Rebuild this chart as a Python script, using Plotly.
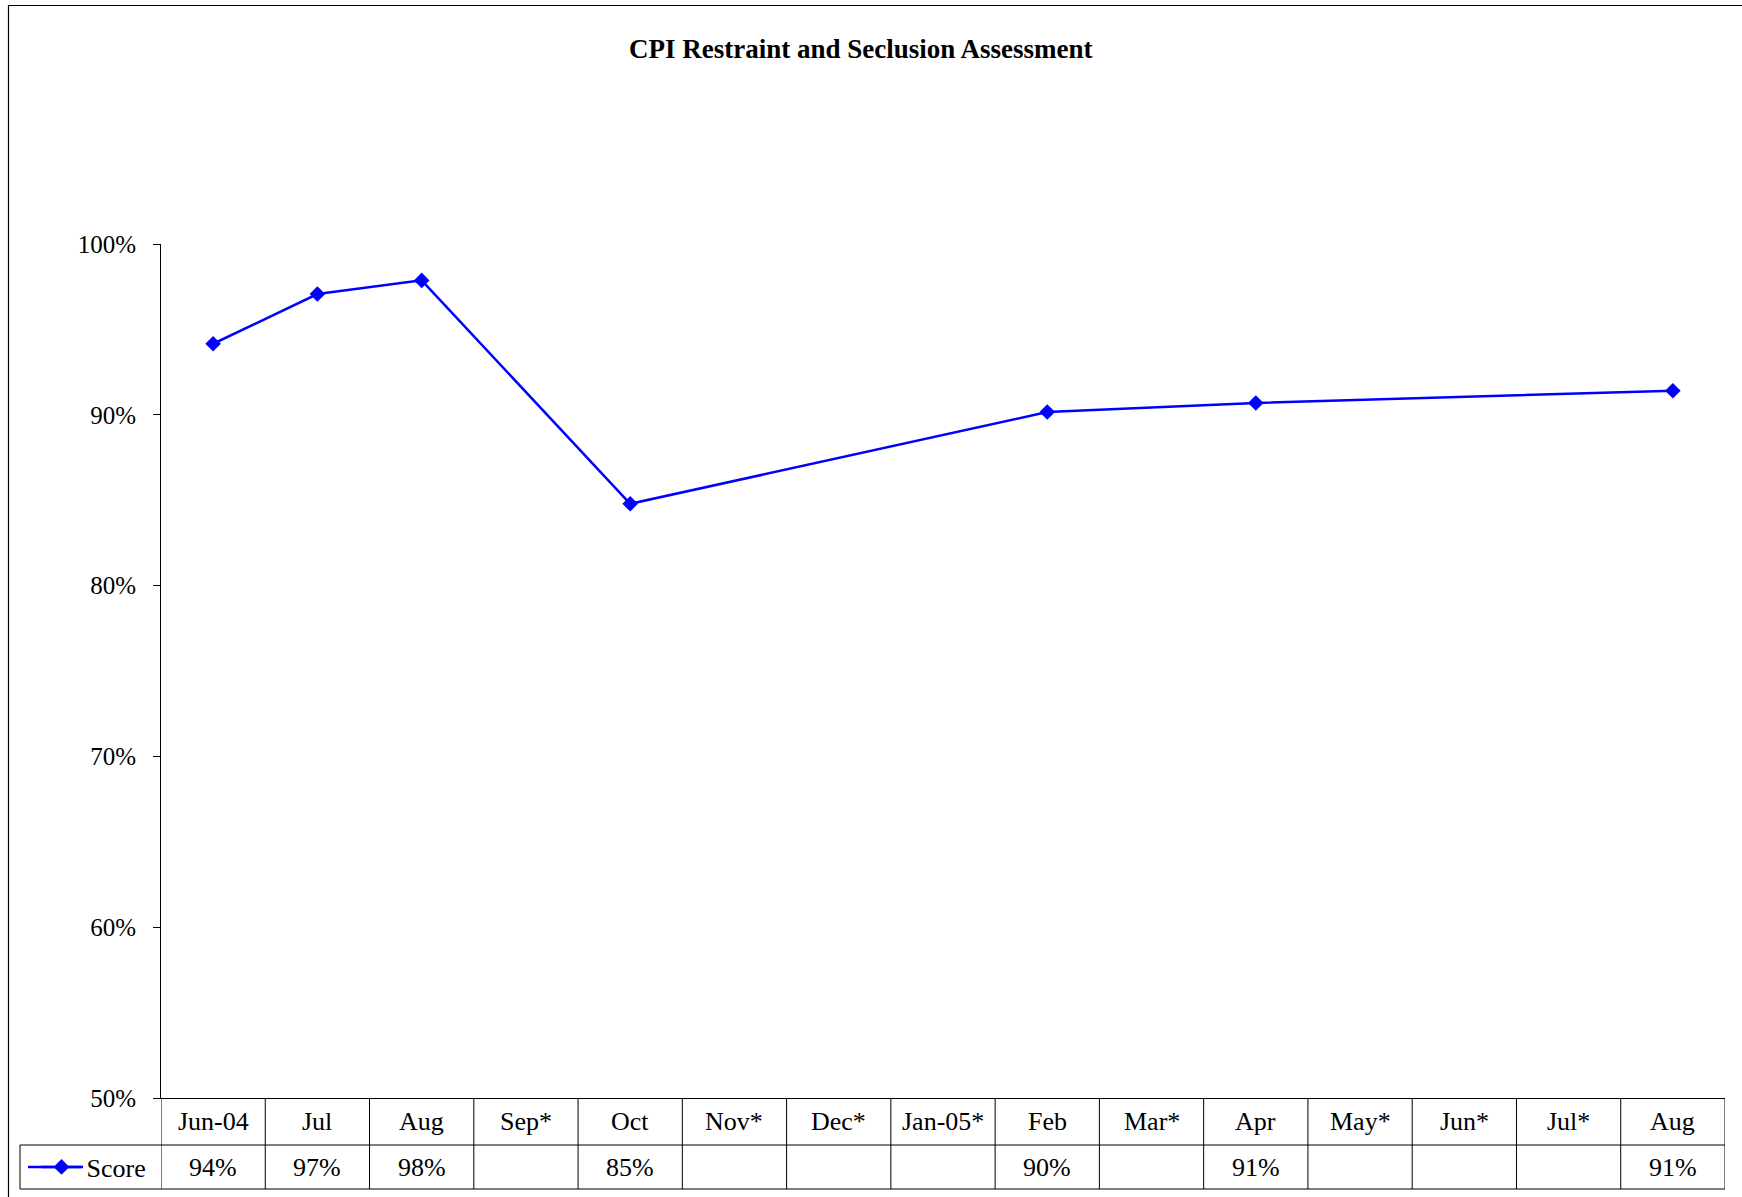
import plotly.graph_objects as go

# ---- data ----
months = ["Jun-04", "Jul", "Aug", "Sep*", "Oct", "Nov*", "Dec*", "Jan-05*",
          "Feb", "Mar*", "Apr", "May*", "Jun*", "Jul*", "Aug"]
scores = [0.9416, 0.9707, 0.9787, None, 0.8479, None, None, None,
          0.9016, None, 0.9069, None, None, None, 0.9141]
series_name = "Score"
title_text = "CPI Restraint and Seclusion Assessment"

# ---- layout geometry (pixels) ----
W, H = 1742, 1197
L, R, T, B = 161, 1725, 244, 1098
FONT = "Liberation Serif, Times New Roman, serif"
BLUE = "#0000FF"


def px(xp):
    return (xp - L) / (R - L)


def py(yp):
    return (B - yp) / (B - T)


x_idx = list(range(len(months)))

fig = go.Figure()
fig.add_trace(go.Scatter(
    x=x_idx, y=scores, name=series_name, mode="lines+markers",
    connectgaps=True,
    line=dict(color=BLUE, width=2.5),
    marker=dict(symbol="diamond", size=12, color=BLUE),
))

shapes = []
annotations = []

# outer chart border
shapes.append(dict(type="rect", xref="paper", yref="paper",
                   x0=px(8.5), x1=px(1750), y0=py(1205), y1=py(5.5),
                   line=dict(color="black", width=1.2), fillcolor="rgba(0,0,0,0)"))

# data table grid
row1_bot = 1145
row2_bot = 1189
tbl_left = 20
for yy in (row1_bot, row2_bot):
    shapes.append(dict(type="line", xref="paper", yref="paper",
                       x0=px(tbl_left), x1=1, y0=py(yy), y1=py(yy),
                       line=dict(color="black", width=1)))
shapes.append(dict(type="line", xref="paper", yref="paper",
                   x0=px(tbl_left), x1=px(tbl_left), y0=py(row1_bot), y1=py(row2_bot),
                   line=dict(color="black", width=1)))
for i in range(len(months) + 1):
    shapes.append(dict(type="line", xref="x", yref="paper",
                       x0=i - 0.5, x1=i - 0.5, y0=0, y1=py(row2_bot),
                       line=dict(color="black", width=1)))

# legend key line (extends the legend sample to the table's key width)
row2_mid = (row1_bot + row2_bot) / 2
shapes.append(dict(type="line", xref="paper", yref="paper",
                   x0=px(28), x1=px(83), y0=py(row2_mid), y1=py(row2_mid),
                   line=dict(color=BLUE, width=2.5)))

# header labels + values
for i, (m, v) in enumerate(zip(months, scores)):
    annotations.append(dict(x=i, xref="x", y=py((B + row1_bot) / 2), yref="paper",
                            text=m, showarrow=False, yanchor="middle",
                            font=dict(family=FONT, size=26, color="black")))
    if v is not None:
        annotations.append(dict(x=i, xref="x", y=py(row2_mid), yref="paper",
                                text=f"{round(v * 100)}%", showarrow=False, yanchor="middle",
                                font=dict(family=FONT, size=26, color="black")))

# title
annotations.append(dict(x=px(861), xref="paper", y=py(49), yref="paper",
                        text=f"<b>{title_text}</b>", showarrow=False,
                        xanchor="center", yanchor="middle",
                        font=dict(family=FONT, size=27, color="black")))

fig.update_layout(
    width=W, height=H,
    margin=dict(l=L, r=W - R, t=T, b=H - B, autoexpand=False),
    paper_bgcolor="white", plot_bgcolor="white",
    font=dict(family=FONT, size=25, color="black"),
    shapes=shapes, annotations=annotations,
    showlegend=True,
    legend=dict(xref="container", yref="container",
                x=36.5 / W, y=1 - row2_mid / H, xanchor="left", yanchor="middle",
                bgcolor="rgba(0,0,0,0)", font=dict(family=FONT, size=26, color="black"),
                itemwidth=40, tracegroupgap=0),
    xaxis=dict(range=[-0.5, len(months) - 0.5], showgrid=False, zeroline=False,
               showticklabels=False, ticks="", showline=True, linecolor="black", linewidth=1),
    yaxis=dict(range=[0.5, 1.0], tickformat=".0%", dtick=0.1, showgrid=False, zeroline=False,
               showline=True, linecolor="black", linewidth=1, ticks="outside", ticklen=7,
               tickcolor="black", tickwidth=1, ticklabelstandoff=12,
               tickfont=dict(family=FONT, size=25, color="black")),
)

fig.write_html("out.html", config={"displayModeBar": False},
               post_script="document.body.style.margin='0';document.body.style.overflow='hidden';")
